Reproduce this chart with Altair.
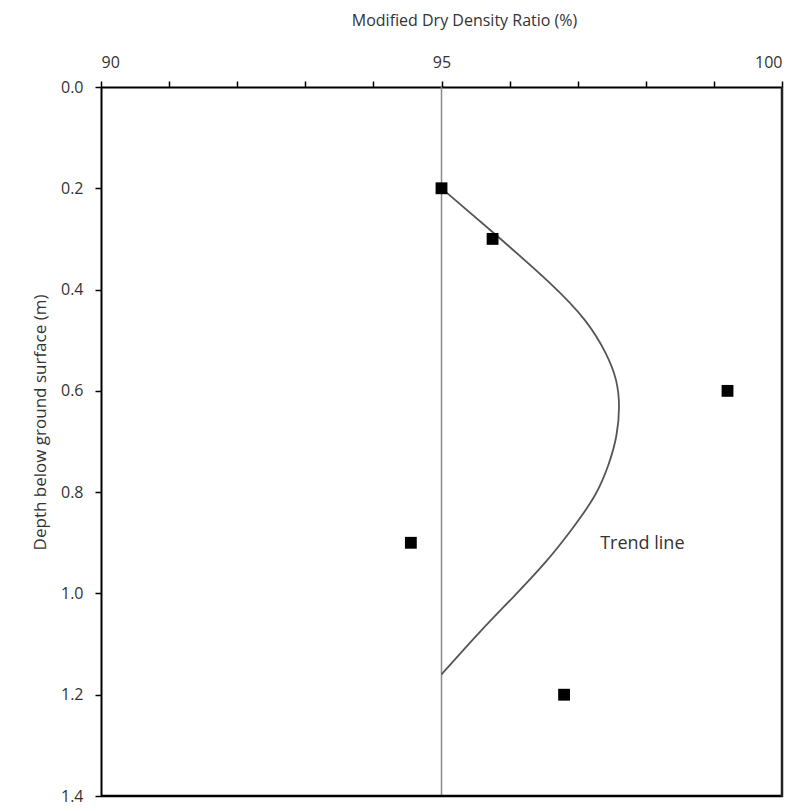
import altair as alt
import pandas as pd

# Measured points
ratio = [95.0, 95.75, 99.2, 94.55, 96.8]
depth = [0.2, 0.3, 0.6, 0.9, 1.2]

# Trend line
trend_ratio = [95.0, 95.81, 96.64, 97.14, 97.43, 97.58, 97.62, 97.58, 97.47, 97.28, 96.93, 96.55, 96.05, 95.57, 95.0]
trend_depth = [0.2, 0.293, 0.391, 0.461, 0.527, 0.578, 0.631, 0.689, 0.742, 0.806, 0.871, 0.937, 1.008, 1.074, 1.16]

ref_ratio = [95.0]
x_ticks = [90, 91, 92, 93, 94, 95, 96, 97, 98, 99, 100]
y_ticks = [0.0, 0.2, 0.4, 0.6, 0.8, 1.0, 1.2, 1.4]

label_text = ["Trend line"]
label_x = [97.33]
label_y = [0.903]

pts = pd.DataFrame({"ratio": ratio, "depth": depth})
trend = pd.DataFrame({"ratio": trend_ratio, "depth": trend_depth, "order": list(range(len(trend_ratio)))})
ref = pd.DataFrame({"ratio": ref_ratio})
lab = pd.DataFrame({"text": label_text, "ratio": label_x, "depth": label_y})

FONT = "Open Sans"
W, H = 681, 709

xscale = alt.Scale(domain=[90, 100], nice=False, zero=False)
yscale = alt.Scale(domain=[0, 1.4], reverse=True, nice=False, zero=False)

xaxis = alt.Axis(
    orient="top", values=x_ticks, title="Modified Dry Density Ratio (%)",
    labelExpr="datum.value % 5 == 0 ? format(datum.value, 'd') : ''",
    grid=False, domainColor="black", domainWidth=2, tickColor="black", tickWidth=1.5,
    tickSize=6, labelFont=FONT, labelFontSize=16, labelColor="#333", labelPadding=11,
    titleFont=FONT, titleFontSize=16, titleFontWeight="normal", titleColor="#333",
    titleX=363, titleY=-67, titleAlign="center", titleBaseline="middle",
)
yaxis = alt.Axis(
    values=y_ticks, format=".1f", title="Depth below ground surface (m)",
    grid=False, domainColor="black", domainWidth=2, tickColor="black", tickWidth=1.5,
    tickSize=6, labelFont=FONT, labelFontSize=16, labelColor="#333", labelPadding=12,
    titleFont=FONT, titleFontSize=17, titleFontWeight="normal", titleColor="#333",
    titleX=-61, titleY=335, titleAlign="center", titleBaseline="middle", titleAngle=-90,
)

rule = alt.Chart(ref).mark_rule(color="#8a8a8a", strokeWidth=1.5).encode(
    x=alt.X("ratio:Q", scale=xscale, axis=xaxis),
)

# bottom and right frame edges (slightly heavier, as in the reference)
frame_b = alt.Chart(ref).mark_rule(color="black", strokeWidth=2.5).encode(
    x=alt.value(0), x2=alt.value(W + 1), y=alt.value(H), y2=alt.value(H),
)
frame_r = alt.Chart(ref).mark_rule(color="#222", strokeWidth=2.5).encode(
    x=alt.value(W), x2=alt.value(W), y=alt.value(0), y2=alt.value(H + 1),
)

line = alt.Chart(trend).mark_line(
    color="#555555", strokeWidth=1.8, interpolate="basis"
).encode(
    x=alt.X("ratio:Q", scale=xscale, axis=xaxis),
    y=alt.Y("depth:Q", scale=yscale, axis=yaxis),
    order="order:Q",
)

points = alt.Chart(pts).mark_point(shape="square", filled=True, color="black", size=140, opacity=1).encode(
    x=alt.X("ratio:Q", scale=xscale),
    y=alt.Y("depth:Q", scale=yscale),
)

text = alt.Chart(lab).mark_text(align="left", baseline="middle", font=FONT, fontSize=18, color="#333").encode(
    x=alt.X("ratio:Q", scale=xscale),
    y=alt.Y("depth:Q", scale=yscale),
    text="text:N",
)

chart = alt.layer(rule, frame_b, frame_r, line, points, text).properties(
    width=W, height=H,
    autosize=alt.AutoSizeParams(type="none"),
    padding={"left": 93, "top": 79, "right": 2, "bottom": 7},
).configure_view(stroke="black", strokeWidth=2).configure(background="white")

chart.save("out.html", embed_options={"renderer": "svg", "actions": False})
